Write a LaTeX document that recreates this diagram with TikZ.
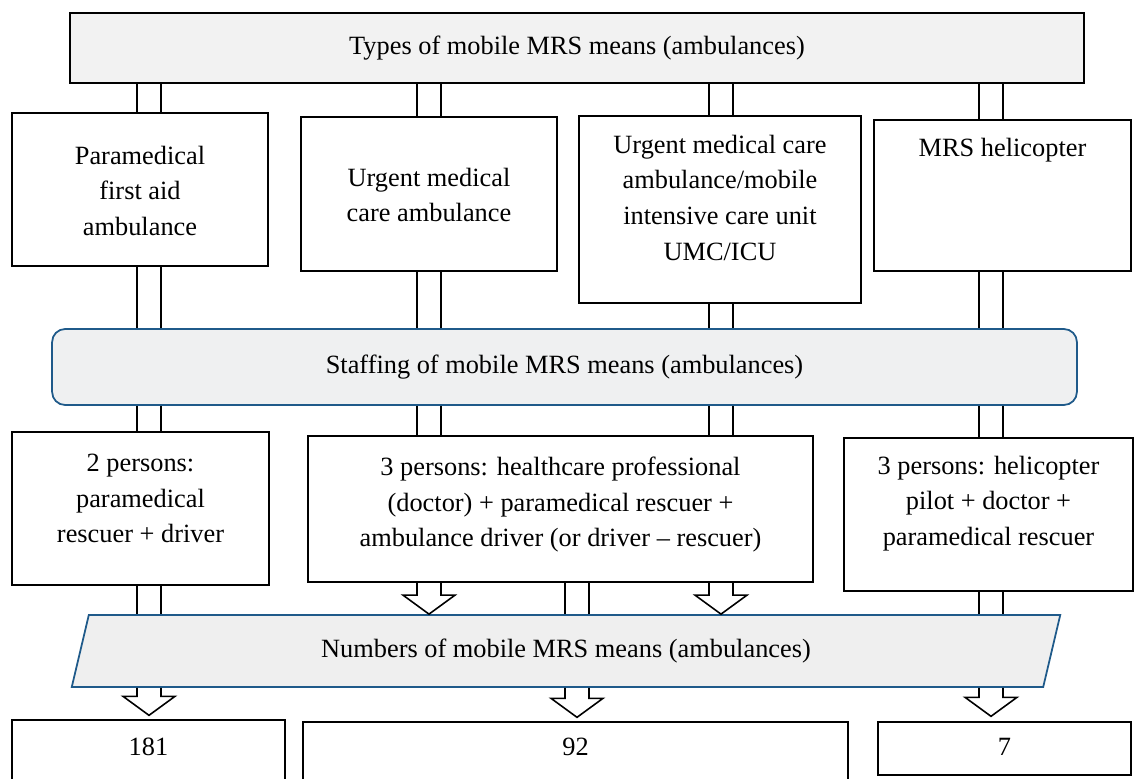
\documentclass[tikz,border=0pt]{standalone}
\usepackage{fontspec}
\setmainfont{Liberation Serif}
\usepackage{tikz}
\usetikzlibrary{calc,shapes.geometric}
\definecolor{headgray}{HTML}{F2F2F2}
\definecolor{staffgray}{HTML}{EFF0F1}
\definecolor{numgray}{HTML}{EFEFEF}
\definecolor{mrsblue}{HTML}{1F5A8A}
\newcommand\mrsfont{\fontsize{15}{20.3}\selectfont}
\newcommand\cell[4]{\parbox[c][#1][t]{#2}{\centering\vspace*{#3}#4}}
\def\twinline(#1)(#2){\draw[link] ($(#1)+(-12,0)$) -- ($(#2)+(-12,0)$); \draw[link] ($(#1)+(12,0)$) -- ($(#2)+(12,0)$);}
\def\hollowarrow(#1)(#2){\draw[link] ($(#1)+(-12,0)$) -- ($(#2)+(-12,-19)$) -- ($(#2)+(-26,-19)$) -- (#2) -- ($(#2)+(26,-19)$) -- ($(#2)+(12,-19)$) -- ($(#1)+(12,0)$);}
\tikzset{
	box/.style={draw=black, line width=0.8pt, fill=white, inner sep=0pt, font=\mrsfont},
	headbox/.style={draw=black, line width=1.1pt, fill=headgray, font=\mrsfont},
	staffbox/.style={draw=mrsblue, line width=1pt, fill=staffgray, rounded corners=0.26cm, font=\mrsfont},
	numbox/.style={shape=trapezium, trapezium left angle=76, trapezium right angle=104, trapezium stretches=true, draw=mrsblue, line width=1pt, fill=numgray, font=\mrsfont},
	link/.style={line width=0.9pt}
}
\begin{document}
\begin{tikzpicture}[x=0.02cm, y=-0.02cm]
		%%%%% START %%%%%
		\useasboundingbox (0,0) rectangle (1135,778);
		
		\coordinate (c1) at (149,0);
		\coordinate (c2) at (429,0);
		\coordinate (c3) at (721,0);
		\coordinate (c4) at (991,0);
		\coordinate (cm) at (577,0);
		
		\node[headbox, minimum width=20.28cm, minimum height=1.4cm] (types) at (577,48) {Types of mobile MRS means (ambulances)};
		
		\node[box] (para) at (140,189.5) {\cell{3.06cm}{5.12cm}{0.66cm}{Paramedical\\first aid\\ambulance}};
		\node[box] (urgent) at (429,194) {\cell{3.08cm}{5.12cm}{1.02cm}{Urgent medical\\care ambulance}};
		\node[box] (umc) at (720,209.5) {\cell{3.74cm}{5.64cm}{0.38cm}{Urgent medical care\\ambulance/mobile\\intensive care unit\\UMC/ICU}};
		\node[box] (heli) at (1002.5,195.5) {\cell{3.02cm}{5.14cm}{0.36cm}{MRS helicopter}};
		
		\node[staffbox, minimum width=20.5cm, minimum height=1.52cm] (staff) at (564.5,367) {Staffing of mobile MRS means (ambulances)};
		
		\node[box] (two) at (140.5,508.5) {\cell{3.06cm}{5.14cm}{0.44cm}{2 persons:\\paramedical\\rescuer + driver}};
		\node[box] (three) at (560.5,509) {\cell{2.92cm}{10.1cm}{0.42cm}{3 persons: healthcare professional\\(doctor) + paramedical rescuer +\\ambulance driver (or driver -- rescuer)}};
		\node[box] (crew) at (988.5,514.5) {\cell{3.06cm}{5.78cm}{0.36cm}{3 persons: helicopter\\pilot + doctor +\\paramedical rescuer}};
		
		\node[numbox, minimum width=19.84cm, minimum height=1.44cm] (num) at (566,651) {Numbers of mobile MRS means (ambulances)};
		
		\node[box] (n181) at (148.5,775) {\cell{2.2cm}{5.46cm}{0.36cm}{181}};
		\node[box] (n92) at (575.5,776) {\cell{2.16cm}{10.9cm}{0.32cm}{92}};
		\node[box] (n7) at (1004.5,748.5) {\cell{1.06cm}{5.06cm}{0.32cm}{7}};
		
		\coordinate (t181) at ($(c1 |- n181.north)+(0,-4)$);
		\coordinate (t92) at ($(cm |- n92.north)+(0,-4)$);
		\coordinate (t7) at ($(c4 |- n7.north)+(0,-5)$);
		
		% types -> kinds
		\twinline(c1 |- types.south)(c1 |- para.north)
		\twinline(c2 |- types.south)(c2 |- urgent.north)
		\twinline(c3 |- types.south)(c3 |- umc.north)
		\twinline(c4 |- types.south)(c4 |- heli.north)
		
		% kinds -> staffing
		\twinline(c1 |- para.south)(c1 |- staff.north)
		\twinline(c2 |- urgent.south)(c2 |- staff.north)
		\twinline(c3 |- umc.south)(c3 |- staff.north)
		\twinline(c4 |- heli.south)(c4 |- staff.north)
		
		% staffing -> crews
		\twinline(c1 |- staff.south)(c1 |- two.north)
		\twinline(c2 |- staff.south)(c2 |- three.north)
		\twinline(c3 |- staff.south)(c3 |- three.north)
		\twinline(c4 |- staff.south)(c4 |- crew.north)
		
		% crews -> numbers
		\twinline(c1 |- two.south)(c1 |- num.north)
		\hollowarrow(c2 |- three.south)(c2 |- num.north)
		\twinline(cm |- three.south)(cm |- num.north)
		\hollowarrow(c3 |- three.south)(c3 |- num.north)
		\twinline(c4 |- crew.south)(c4 |- num.north)
		
		% numbers -> values
		\hollowarrow(c1 |- num.south)(t181)
		\hollowarrow(cm |- num.south)(t92)
		\hollowarrow(c4 |- num.south)(t7)
		%%%%% END %%%%%
\end{tikzpicture}
\end{document}
